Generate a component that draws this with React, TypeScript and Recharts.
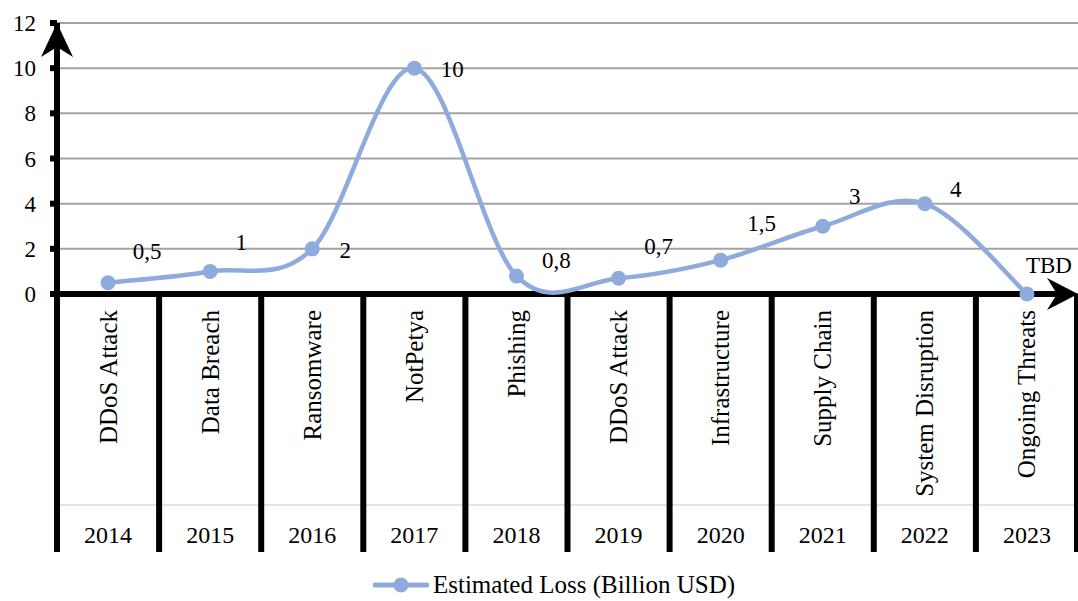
import React from 'react';
import {
  LineChart,
  Line,
  XAxis,
  YAxis,
  CartesianGrid,
  ReferenceLine,
  Legend,
  LabelList,
} from 'recharts';

// Incident timeline: year, headline incident and estimated loss (billion USD)
const years = ['2014', '2015', '2016', '2017', '2018', '2019', '2020', '2021', '2022', '2023'];
const events = [
  'DDoS Attack',
  'Data Breach',
  'Ransomware',
  'NotPetya',
  'Phishing',
  'DDoS Attack',
  'Infrastructure',
  'Supply Chain',
  'System Disruption',
  'Ongoing Threats',
];
const estimatedLoss = [0.5, 1, 2, 10, 0.8, 0.7, 1.5, 3, 4, 0];
// Loss not yet assessed (shown as "TBD")
const pending = [false, false, false, false, false, false, false, false, false, true];
const yTicks = [0, 2, 4, 6, 8, 10, 12];

const data = years.map((year, i) => ({
  year,
  event: events[i],
  loss: estimatedLoss[i],
  pending: pending[i],
}));

const SERIES_NAME = 'Estimated Loss (Billion USD)';
const BLUE = '#8FAADC';
const FONT = '"Liberation Serif", "Times New Roman", serif';

const W = 1078;
const H = 601;
const Y_AXIS_W = 57;
const MARGIN = { top: 23, right: 0, left: 0, bottom: 0 };
const X_AXIS_H = 258;
const LEGEND_H = 49;
const BAND = (W - Y_AXIS_W - MARGIN.right) / years.length;

// label placement relative to each point [dx, dy]
const labelOffsets: [number, number][] = [
  [39, -32],
  [31, -29],
  [33, 1],
  [38, 1],
  [40, -16],
  [40, -32],
  [41, -37],
  [32, -30],
  [31, -15],
  [22, -29],
];

// Uniform Catmull-Rom spline drawn as cubic Béziers
const smoothCurve = (context: any) => {
  let pts: number[][] = [];
  return {
    areaStart() {},
    areaEnd() {},
    lineStart() {
      pts = [];
    },
    point(x: number, y: number) {
      pts.push([+x, +y]);
    },
    lineEnd() {
      const n = pts.length;
      if (!n) return;
      context.moveTo(pts[0][0], pts[0][1]);
      for (let i = 0; i < n - 1; i++) {
        const p0 = pts[Math.max(i - 1, 0)];
        const p1 = pts[i];
        const p2 = pts[i + 1];
        const p3 = pts[Math.min(i + 2, n - 1)];
        context.bezierCurveTo(
          p1[0] + (p2[0] - p0[0]) / 6,
          p1[1] + (p2[1] - p0[1]) / 6,
          p2[0] - (p3[0] - p1[0]) / 6,
          p2[1] - (p3[1] - p1[1]) / 6,
          p2[0],
          p2[1]
        );
      }
    },
  };
};

const formatLoss = (v: number, i: number) => (pending[i] ? 'TBD' : String(v).replace('.', ','));

// Two-level category axis: rotated incident name over the year
const CategoryTick = (props: any) => {
  const { x, y, payload, index } = props;
  const left = x - BAND / 2;
  const right = x + BAND / 2;
  const isLast = index === years.length - 1;
  return (
    <g>
      <line x1={left} y1={y + 211} x2={right} y2={y + 211} stroke="#c8c8c8" strokeWidth={1} />
      <line x1={left} y1={y} x2={left} y2={y + X_AXIS_H} stroke="#000" strokeWidth={6} />
      {isLast && <line x1={right - 2} y1={y} x2={right - 2} y2={y + X_AXIS_H} stroke="#000" strokeWidth={4} />}
      <text
        x={x}
        y={y + 16}
        transform={`rotate(-90, ${x}, ${y + 16})`}
        textAnchor="end"
        dy="0.34em"
        fontSize={25}
        fontFamily={FONT}
        fill="#000"
      >
        {events[index]}
      </text>
      <text x={x} y={y + 241} textAnchor="middle" dy="0.35em" fontSize={24} fontFamily={FONT} fill="#000">
        {payload.value}
      </text>
    </g>
  );
};

const YTick = (props: any) => {
  const { x, y, payload } = props;
  return (
    <text x={x} y={y} textAnchor="end" dy="0.35em" fontSize={23} fontFamily={FONT} fill="#000">
      {payload.value}
    </text>
  );
};

// Arrow head at the top of the value axis
const ValueArrow = (props: any) => {
  const { x1, y1 } = props;
  const x = x1;
  const y = y1;
  return <polygon points={`${x},${y} ${x + 16},${y + 34} ${x},${y + 24} ${x - 16},${y + 34}`} fill="#000" />;
};

// Category axis baseline with arrow head at its end
const BaseArrow = (props: any) => {
  const { x1, y1, x2 } = props;
  const y = y1;
  return (
    <g>
      <line x1={x1 - 7} y1={y} x2={x2 - 12} y2={y} stroke="#000" strokeWidth={6} />
      <polygon points={`${x2},${y} ${x2 - 31},${y + 16} ${x2 - 21},${y} ${x2 - 31},${y - 16}`} fill="#000" />
    </g>
  );
};

const LossLabel = (props: any) => {
  const { index, value } = props;
  const x = props.x ?? props.viewBox?.x;
  const y = props.y ?? props.viewBox?.y;
  const [dx, dy] = labelOffsets[index];
  return (
    <text
      x={x + dx}
      y={y + dy}
      textAnchor="middle"
      dy="0.35em"
      fontSize={23}
      fontFamily={FONT}
      fill="#000"
    >
      {formatLoss(value, index)}
    </text>
  );
};

const LegendContent = () => (
  <div
    style={{
      height: LEGEND_H,
      boxSizing: 'border-box',
      paddingTop: 16,
      paddingLeft: 30,
      display: 'flex',
      justifyContent: 'center',
      alignItems: 'center',
      fontFamily: FONT,
      fontSize: 25,
      color: '#000',
    }}
  >
    <svg width={56} height={20} style={{ marginRight: 4 }}>
      <line x1={2} y1={10} x2={54} y2={10} stroke={BLUE} strokeWidth={5} strokeLinecap="round" />
      <circle cx={28} cy={10} r={7.5} fill={BLUE} />
    </svg>
    <span>{SERIES_NAME}</span>
  </div>
);

export default function App() {
  return (
    <div style={{ position: 'absolute', left: 0, top: 0, width: W, height: H, background: '#fff' }}>
      <LineChart width={W} height={H} data={data} margin={MARGIN}>
        <CartesianGrid vertical={false} stroke="#a3a3a3" strokeWidth={2} />
        <XAxis
          dataKey="year"
          scale="band"
          interval={0}
          axisLine={false}
          tickLine={false}
          tickSize={0}
          tickMargin={0}
          height={X_AXIS_H}
          tick={<CategoryTick />}
        />
        <YAxis
          domain={[0, 12]}
          ticks={yTicks}
          width={Y_AXIS_W}
          axisLine={{ stroke: '#000', strokeWidth: 6 }}
          tickLine={{ stroke: '#000', strokeWidth: 6 }}
          tickSize={7}
          tickMargin={14}
          tick={<YTick />}
        />
        <ReferenceLine y={12} shape={<ValueArrow />} />
        <ReferenceLine y={0} shape={<BaseArrow />} />
        <Legend verticalAlign="bottom" height={LEGEND_H} content={<LegendContent />} />
        <Line
          name={SERIES_NAME}
          dataKey="loss"
          type={smoothCurve as any}
          stroke={BLUE}
          strokeWidth={4.5}
          dot={{ r: 7.5, fill: BLUE, stroke: BLUE, strokeWidth: 0 }}
          activeDot={false}
          isAnimationActive={false}
        >
          <LabelList dataKey="loss" content={<LossLabel />} />
        </Line>
      </LineChart>
    </div>
  );
}
